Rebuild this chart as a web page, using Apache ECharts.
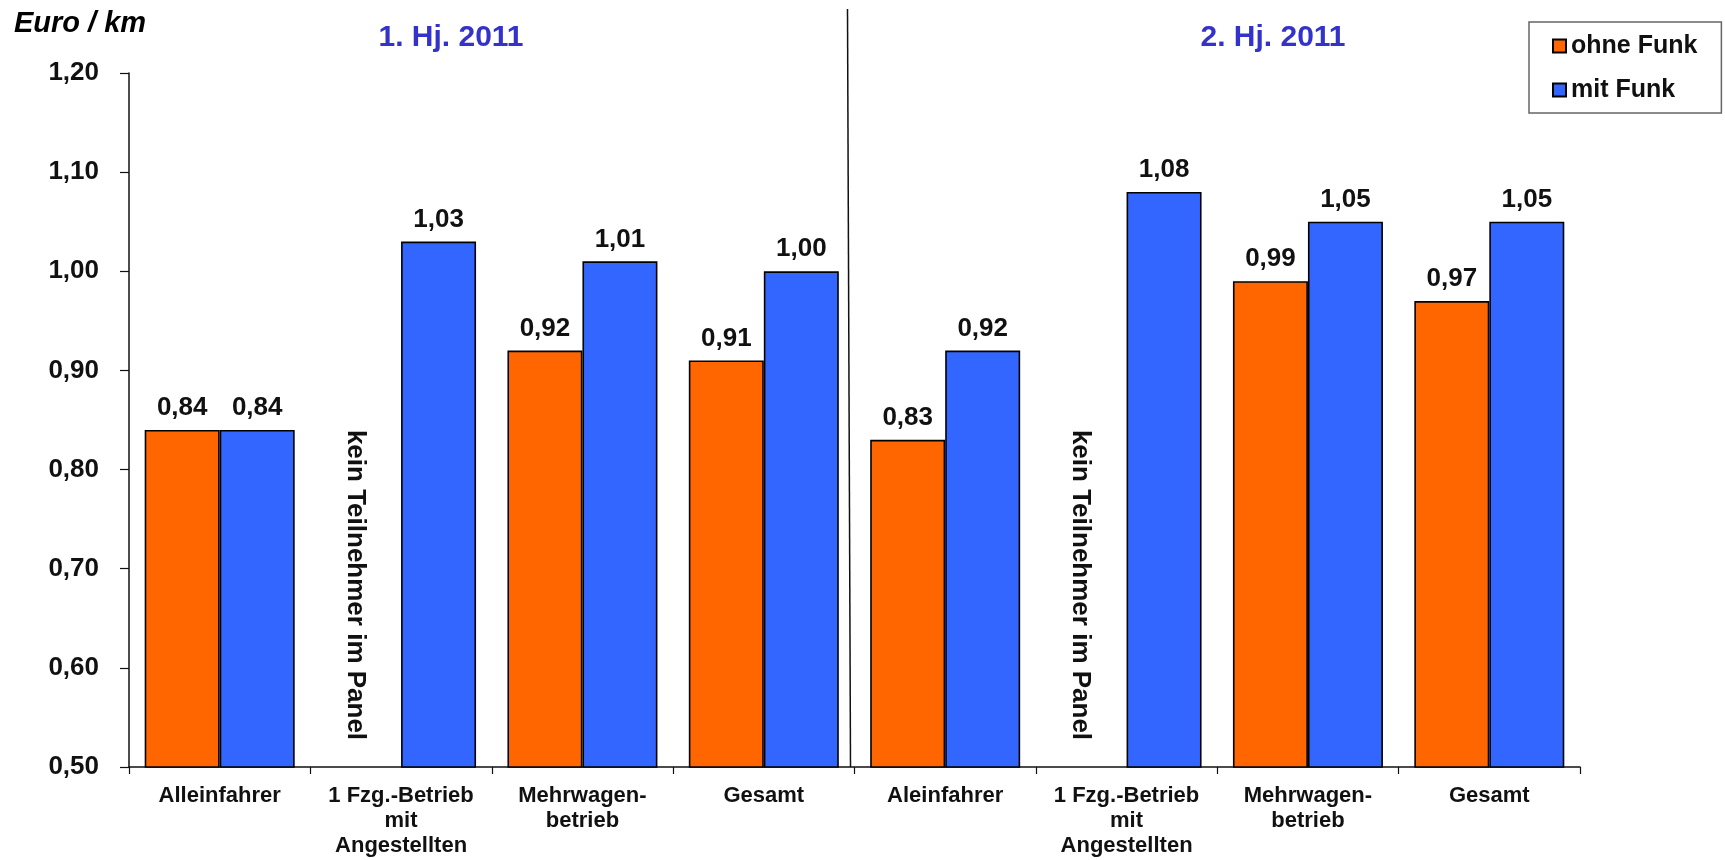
<!DOCTYPE html>
<html><head><meta charset="utf-8">
<script src="https://cdn.jsdelivr.net/npm/echarts@6/dist/echarts.min.js"></script>
<style>html,body{margin:0;padding:0;background:#fff}#c{width:1725px;height:860px}</style>
</head><body><div id="c"></div>
<script>
const categories = ['Alleinfahrer', '1 Fzg.-Betrieb\nmit\nAngestellten', 'Mehrwagen-\nbetrieb', 'Gesamt',
                    'Aleinfahrer', '1 Fzg.-Betrieb\nmit\nAngestellten', 'Mehrwagen-\nbetrieb', 'Gesamt'];
const ohneFunk = [0.84, null, 0.92, 0.91, 0.83, null, 0.99, 0.97];
const mitFunk  = [0.84, 1.03, 1.01, 1.00, 0.92, 1.08, 1.05, 1.05];
const seriesNames = ['ohne Funk', 'mit Funk'];
const periodLabels = ['1. Hj. 2011', '2. Hj. 2011'];
const unitLabel = 'Euro / km';
const missingNote = 'kein Teilnehmer im Panel';
const Y_MIN = 0.5, Y_MAX = 1.2, Y_STEP = 0.1;

const FONT = "'Liberation Sans', Arial, Helvetica, sans-serif";
const ORANGE = '#FF6600', BLUE = '#3366FF';
const fmt = v => v.toFixed(2).replace('.', ',');

const valueLabel = {
  show: true, position: 'top', distance: 9,
  fontFamily: FONT, fontSize: 26, fontWeight: 'bold', color: '#111',
  formatter: p => fmt(p.value)
};

const orangeData = ohneFunk.map(v => v == null ? {
  value: Y_MIN,
  itemStyle: { borderColor: ORANGE },
  label: { show: false }
} : v);

const chart = echarts.init(document.getElementById('c'), null, { renderer: 'canvas' });
chart.setOption({
  animation: false,
  backgroundColor: '#fff',
  grid: { left: 129, right: 145, top: 73, bottom: 93, containLabel: false },
  legend: {
    orient: 'vertical', left: 1529, top: 22,
    padding: [11, 24, 10, 23], itemGap: 18,
    itemWidth: 13, itemHeight: 13,
    borderColor: '#666', borderWidth: 1.5, backgroundColor: '#fff',
    textStyle: { fontFamily: FONT, fontSize: 25, fontWeight: 'bold', color: '#111', lineHeight: 26 },
    data: seriesNames.map(n => ({ name: n, icon: 'rect' }))
  },
  xAxis: {
    type: 'category', data: categories,
    axisLine: { lineStyle: { color: '#111', width: 1.5 } },
    axisTick: { show: true, alignWithLabel: false, length: 7, lineStyle: { color: '#111', width: 1.2 } },
    axisLabel: { interval: 0, margin: 16, fontFamily: FONT, fontSize: 22, fontWeight: 'bold', color: '#111', lineHeight: 25 }
  },
  yAxis: {
    type: 'value', min: Y_MIN, max: Y_MAX, interval: Y_STEP,
    axisLine: { show: true, lineStyle: { color: '#111', width: 1.5 } },
    axisTick: { show: true, length: 9, lineStyle: { color: '#111', width: 1.2 } },
    splitLine: { show: false },
    axisLabel: { margin: 30, fontFamily: FONT, fontSize: 26, fontWeight: 'bold', color: '#111', formatter: v => fmt(v) }
  },
  series: [
    { name: seriesNames[0], type: 'bar', data: orangeData, barGap: '0%', barCategoryGap: '17.3%',
      itemStyle: { color: ORANGE, borderColor: '#000', borderWidth: 1.6 }, label: valueLabel },
    { name: seriesNames[1], type: 'bar', data: mitFunk, barGap: '0%', barCategoryGap: '17.3%',
      itemStyle: { color: BLUE, borderColor: '#000', borderWidth: 1.6 }, label: valueLabel }
  ]
});

// decorations placed through the axes
const px = i => chart.convertToPixel({ xAxisIndex: 0 }, i);
const py = v => chart.convertToPixel({ yAxisIndex: 0 }, v);
const band = px(1) - px(0);
const base = py(Y_MIN);
const midX = (px(3) + px(4)) / 2;

const graphics = [
  { type: 'text', left: 14, top: 9, style: { text: unitLabel, font: "italic bold 29px " + FONT, fill: '#000' } },
  { type: 'text', x: 451, y: 38, style: { text: periodLabels[0], font: "bold 30px " + FONT, fill: '#3333CC', align: 'center', verticalAlign: 'middle' } },
  { type: 'text', x: 1273, y: 38, style: { text: periodLabels[1], font: "bold 30px " + FONT, fill: '#3333CC', align: 'center', verticalAlign: 'middle' } },
  { type: 'line', shape: { x1: midX - 7, y1: 9, x2: midX - 4, y2: base }, style: { stroke: '#111', lineWidth: 1.5 } }
];
ohneFunk.forEach((v, i) => {
  if (v == null) {
    graphics.push({
      type: 'text', x: px(i) - band * 0.255, y: base - 182, rotation: -Math.PI / 2,
      style: { text: missingNote, font: "bold 26px " + FONT, fill: '#111', align: 'center', verticalAlign: 'middle' }
    });
  }
});
chart.setOption({ graphic: graphics });
</script>
</body></html>
